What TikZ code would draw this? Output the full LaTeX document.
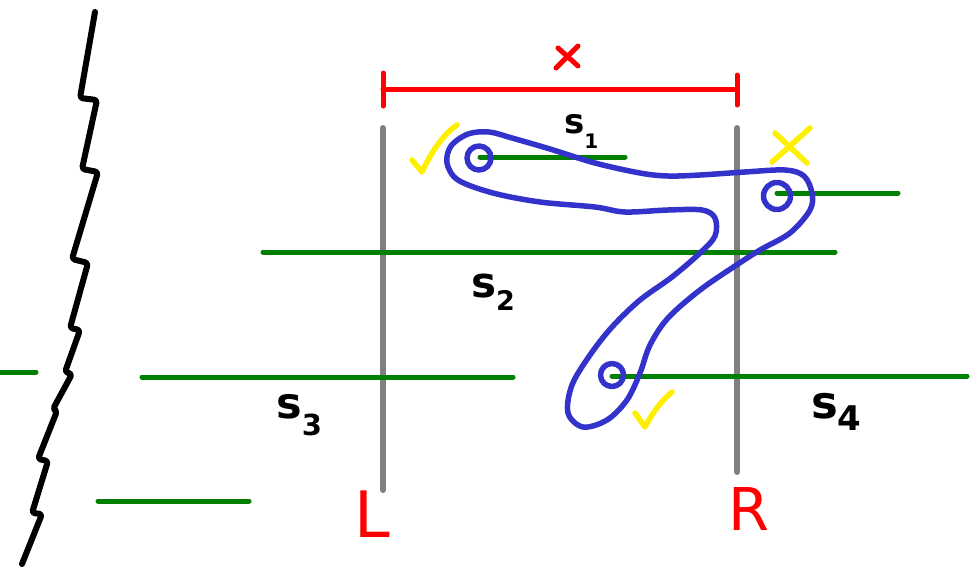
\documentclass[tikz,border=0pt]{standalone}
\usepackage{fontspec}
\newfontfamily\hand{DejaVu Sans}
\definecolor{sgreen}{RGB}{0,128,0}
\definecolor{sgray}{RGB}{128,128,128}
\definecolor{sred}{RGB}{255,0,0}
\definecolor{sblue}{RGB}{51,51,204}
\definecolor{syellow}{RGB}{255,240,0}
\tikzset{
  seg/.style={draw=sgreen, line width=5pt, line cap=round},
  wall/.style={draw=sgray, line width=6pt, line cap=round},
  redink/.style={draw=sred, line width=5pt, line cap=round, line join=round},
  yellowink/.style={draw=syellow, line width=5.5pt, line cap=round, line join=round},
  blueink/.style={draw=sblue, line width=5.5pt, line cap=round, line join=round},
  blackink/.style={draw=black, line width=6pt, line cap=round, line join=round},
  slabel/.style={inner sep=0pt, anchor=base west, font=\hand\bfseries},
  rlabel/.style={inner sep=0pt, anchor=base west, text=sred, font=\hand},
}
\newcommand\lowsub[3]{\raisebox{-#1pt}{\fontsize{#2}{#2}\selectfont #3}}
\begin{document}
\begin{tikzpicture}[x=1pt,y=-1pt]
\useasboundingbox (0,0) rectangle (980,576);
% zigzag boundary
\draw[blackink, rounded corners=3pt]
  (95,12) -- (80,98) -- (97,100) -- (82,169) -- (98,172) -- (72,259) -- (88,263)
  -- (70,328) -- (80,330) -- (65,372) -- (72,374) -- (53,409) -- (57,411)
  -- (38,459) -- (48,461) -- (32,513) -- (42,514) -- (22,564);
% walls
\coordinate (Ltop) at (383,128);
\coordinate (Lbot) at (383,490);
\coordinate (Rtop) at (737,128); \coordinate (Rbot) at (737,472);
\draw[wall] (Ltop) -- (Lbot);
\draw[wall] (Rtop) -- (Rbot);
% segments
\coordinate (a1) at (480,157); \coordinate (b1) at (625,157);
\coordinate (a5) at (777,193); \coordinate (b5) at (898,193);
\coordinate (a2) at (263,252); \coordinate (b2) at (835,252);
\coordinate (a3) at (142,377); \coordinate (b3) at (513,377);
\coordinate (a4) at (612,376); \coordinate (b4) at (967,376);
\coordinate (a6) at (0,372);   \coordinate (b6) at (36,372);
\coordinate (a7) at (98,501);  \coordinate (b7) at (249,501);
\foreach \i in {1,...,7} {\draw[seg] (a\i) -- (b\i);}
% red bracket
\coordinate (bl) at (383,89); \coordinate (br) at (737,89);
\draw[redink] (bl) -- (br);
\draw[redink] (383,73) -- (383,106);
\draw[redink] (737,75) -- (737,105);
\draw[redink] (556,68) -- (578,46);
\draw[redink] (558,48) -- (578,66);
% yellow marks
\draw[yellowink] (412,160) -- (422,172) .. controls (432,150) and (445,133) .. (457,125);
\draw[yellowink] (635,413) -- (645,427) .. controls (653,412) and (662,400) .. (672,392);
\draw[yellowink] (775,133) -- (807,163);
\draw[yellowink] (810,128) -- (772,162);
% blue loop
\draw[blueink] plot[smooth cycle, tension=0.55] coordinates {
  (468,134) (489,132) (512,138) (550,149) (595,163) (640,173) (668,176)
  (700,175) (745,172) (785,170) (804,176) (812,193) (810,210) (790,233)
  (760,250) (735,266) (700,290) (668,318) (650,345) (640,373) (627,400)
  (607,420) (583,427) (568,413) (572,385) (590,355) (612,327) (640,300)
  (672,277) (700,253) (715,236) (715,218) (702,210) (668,210) (625,212)
  (595,207) (540,202) (493,193) (458,180) (447,163) (451,146)};
\draw[blueink] (479,158) circle (12);
\draw[blueink] (777,196) circle (13.5);
\draw[blueink] (612,375) circle (11.5);
% labels
\node[slabel, font=\hand\bfseries\fontsize{34}{34}\selectfont] (s1) at (564,133) {s\lowsub{15}{20}{1}};
\node[slabel, font=\hand\bfseries\fontsize{42}{42}\selectfont] (s2) at (471,297) {s\lowsub{13}{27}{2}};
\node[slabel, font=\hand\bfseries\fontsize{43}{43}\selectfont] (s3) at (276,418) {s\lowsub{17}{29}{3}};
\node[slabel, font=\hand\bfseries\fontsize{45}{45}\selectfont] (s4) at (811,418) {s\lowsub{12}{34}{4}};
\node[rlabel, font=\hand\fontsize{64}{64}\selectfont] (L) at (354,537) {L};
\node[rlabel, font=\hand\fontsize{59}{59}\selectfont] (R) at (728,530) {R};
\end{tikzpicture}
\end{document}
